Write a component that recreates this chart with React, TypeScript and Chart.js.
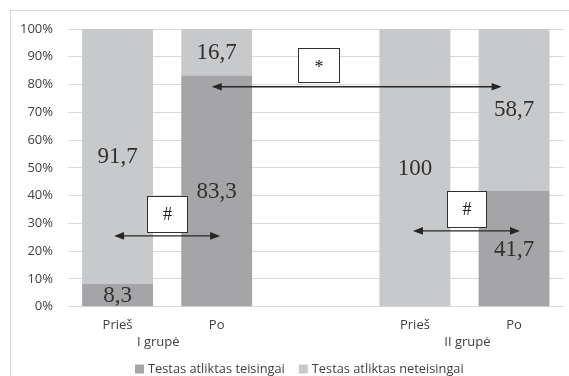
import React, { useEffect, useRef } from "react";
import { Chart, registerables } from "chart.js";

Chart.register(...registerables);

// ---- data ----
const categories = ["Prieš", "Po", "", "Prieš", "Po"];
const seriesNames = ["Testas atliktas teisingai", "Testas atliktas neteisingai"];
const correct = [8.3, 83.3, null, 0, 41.7];
const incorrect = [91.7, 16.7, null, 100, 58.7];
const yTickValues = [0, 10, 20, 30, 40, 50, 60, 70, 80, 90, 100];
const groupLabels = ["I grupė", "II grupė"];
const groupCenters = [0.41, 3.53]; // in category-index units
const seriesColors = ["#a5a5a8", "#c8c9cb"];

// annotations (in data units: category index / percent)
const arrows = [
  { from: -0.035, to: 1.035, y: 25.5 },
  { from: 0.95, to: 3.875, y: 79.2 },
  { from: 2.98, to: 4.06, y: 27.3 },
];
const boxes = [
  { x0: 0.3, x1: 0.7, yTop: 39.9, yBottom: 26.9, text: "#" },
  { x0: 1.82, x1: 2.23, yTop: 93.2, yBottom: 80.9, text: "*" },
  { x0: 3.32, x1: 3.72, yTop: 41.7, yBottom: 28.7, text: "#" },
];

const SANS = "'Open Sans', 'Noto Sans', sans-serif";
const SERIF = "'Liberation Serif', 'DejaVu Serif', serif";

const overlayPlugin = {
  id: "overlay",
  beforeDraw(chart: any) {
    const ctx = chart.ctx;
    ctx.save();
    ctx.strokeStyle = "#d9d9d9";
    ctx.lineWidth = 1;
    ctx.strokeRect(10.5, 10.5, chart.width + 20, chart.height + 20);
    ctx.restore();
  },
  afterDatasetsDraw(chart: any) {
    const ctx = chart.ctx;
    const xs = chart.scales.x;
    const ys = chart.scales.y;
    ctx.save();
    // data labels
    ctx.font = `23px ${SERIF}`;
    ctx.fillStyle = "#303030";
    ctx.textAlign = "center";
    ctx.textBaseline = "middle";
    chart.data.datasets.forEach((ds: any, di: number) => {
      const meta = chart.getDatasetMeta(di);
      meta.data.forEach((el: any, i: number) => {
        const v = ds.data[i];
        if (v === null || v === 0) return;
        const p = el.getProps(["x", "y", "base"], true);
        const txt = String(v).replace(".", ",");
        ctx.fillText(txt, p.x, (p.y + p.base) / 2 + 1);
      });
    });

    // arrows
    ctx.strokeStyle = "#262626";
    ctx.fillStyle = "#262626";
    ctx.lineWidth = 1.3;
    arrows.forEach((a) => {
      const x1 = xs.getPixelForValue(a.from);
      const x2 = xs.getPixelForValue(a.to);
      const y = ys.getPixelForValue(a.y);
      const hl = 10, hw = 3.8;
      ctx.beginPath();
      ctx.moveTo(x1 + hl - 1, y);
      ctx.lineTo(x2 - hl + 1, y);
      ctx.stroke();
      ctx.beginPath();
      ctx.moveTo(x1, y);
      ctx.lineTo(x1 + hl, y - hw);
      ctx.lineTo(x1 + hl, y + hw);
      ctx.closePath();
      ctx.fill();
      ctx.beginPath();
      ctx.moveTo(x2, y);
      ctx.lineTo(x2 - hl, y - hw);
      ctx.lineTo(x2 - hl, y + hw);
      ctx.closePath();
      ctx.fill();
    });

    // boxes
    boxes.forEach((b) => {
      const x0 = Math.round(xs.getPixelForValue(b.x0)) + 0.5;
      const x1 = Math.round(xs.getPixelForValue(b.x1)) + 0.5;
      const y0 = Math.round(ys.getPixelForValue(b.yTop)) + 0.5;
      const y1 = Math.round(ys.getPixelForValue(b.yBottom)) + 0.5;
      ctx.fillStyle = "#ffffff";
      ctx.fillRect(x0, y0, x1 - x0, y1 - y0);
      ctx.strokeStyle = "#303030";
      ctx.lineWidth = 1;
      ctx.strokeRect(x0, y0, x1 - x0, y1 - y0);
      ctx.fillStyle = "#202020";
      ctx.font = `18px ${SERIF}`;
      ctx.textAlign = "center";
      ctx.textBaseline = "middle";
      ctx.fillText(b.text, (x0 + x1) / 2, (y0 + y1) / 2 + (b.text === "*" ? 3 : 1));
    });

    // group labels
    ctx.fillStyle = "#404040";
    ctx.font = `13px ${SANS}`;
    ctx.textAlign = "center";
    ctx.textBaseline = "middle";
    groupLabels.forEach((g, i) => {
      ctx.fillText(g, xs.getPixelForValue(groupCenters[i]), 342);
    });

    // legend
    ctx.font = `12.8px ${SANS}`;
    ctx.textAlign = "left";
    let x = 135;
    const ly = 369;
    seriesNames.forEach((name, i) => {
      ctx.fillStyle = seriesColors[i];
      ctx.fillRect(x, ly - 4.5, 9, 9);
      ctx.fillStyle = "#404040";
      ctx.fillText(name, x + 13, ly);
      x += 13 + ctx.measureText(name).width + 14;
    });
    ctx.restore();
  },
};

export default function App() {
  const ref = useRef<HTMLCanvasElement | null>(null);
  useEffect(() => {
    if (!ref.current) return;
    const chart = new Chart(ref.current, {
      type: "bar",
      data: {
        labels: categories,
        datasets: [
          {
            label: seriesNames[0],
            data: correct,
            backgroundColor: seriesColors[0],
            categoryPercentage: 1,
            barPercentage: 0.715,
          },
          {
            label: seriesNames[1],
            data: incorrect,
            backgroundColor: seriesColors[1],
            categoryPercentage: 1,
            barPercentage: 0.715,
          },
        ] as any,
      },
      options: {
        animation: false,
        responsive: false,
        maintainAspectRatio: false,
        layout: { padding: { left: 0, top: 29, right: 5.4, bottom: 0 } },
        plugins: {
          legend: { display: false },
          tooltip: { enabled: false },
        },
        scales: {
          x: {
            stacked: true,
            grid: { display: false, drawTicks: false },
            border: { display: false },
            ticks: {
              color: "#404040",
              font: { family: SANS, size: 13 },
              padding: 11,
              maxRotation: 0,
              autoSkip: false,
            },
            afterFit(scale: any) {
              scale.height = 69.3;
            },
          },
          y: {
            stacked: true,
            min: 0,
            max: 100,
            grid: { color: "#d9d9d9", drawTicks: false, lineWidth: 1 },
            border: { display: false },
            afterBuildTicks(scale: any) {
              scale.ticks = yTickValues.map((v) => ({ value: v }));
            },
            ticks: {
              color: "#404040",
              font: { family: SANS, size: 13 },
              padding: 15,
              callback: (v: any) => `${v}%`,
            },
            afterFit(scale: any) {
              scale.width = 68;
            },
          },
        },
      },
      plugins: [overlayPlugin],
    });
    return () => chart.destroy();
  }, []);
  return (
    <div style={{ position: "absolute", left: 0, top: 0, width: 569, height: 376, background: "#fff" }}>
      <canvas ref={ref} width={569} height={376} style={{ display: "block" }} />
    </div>
  );
}
